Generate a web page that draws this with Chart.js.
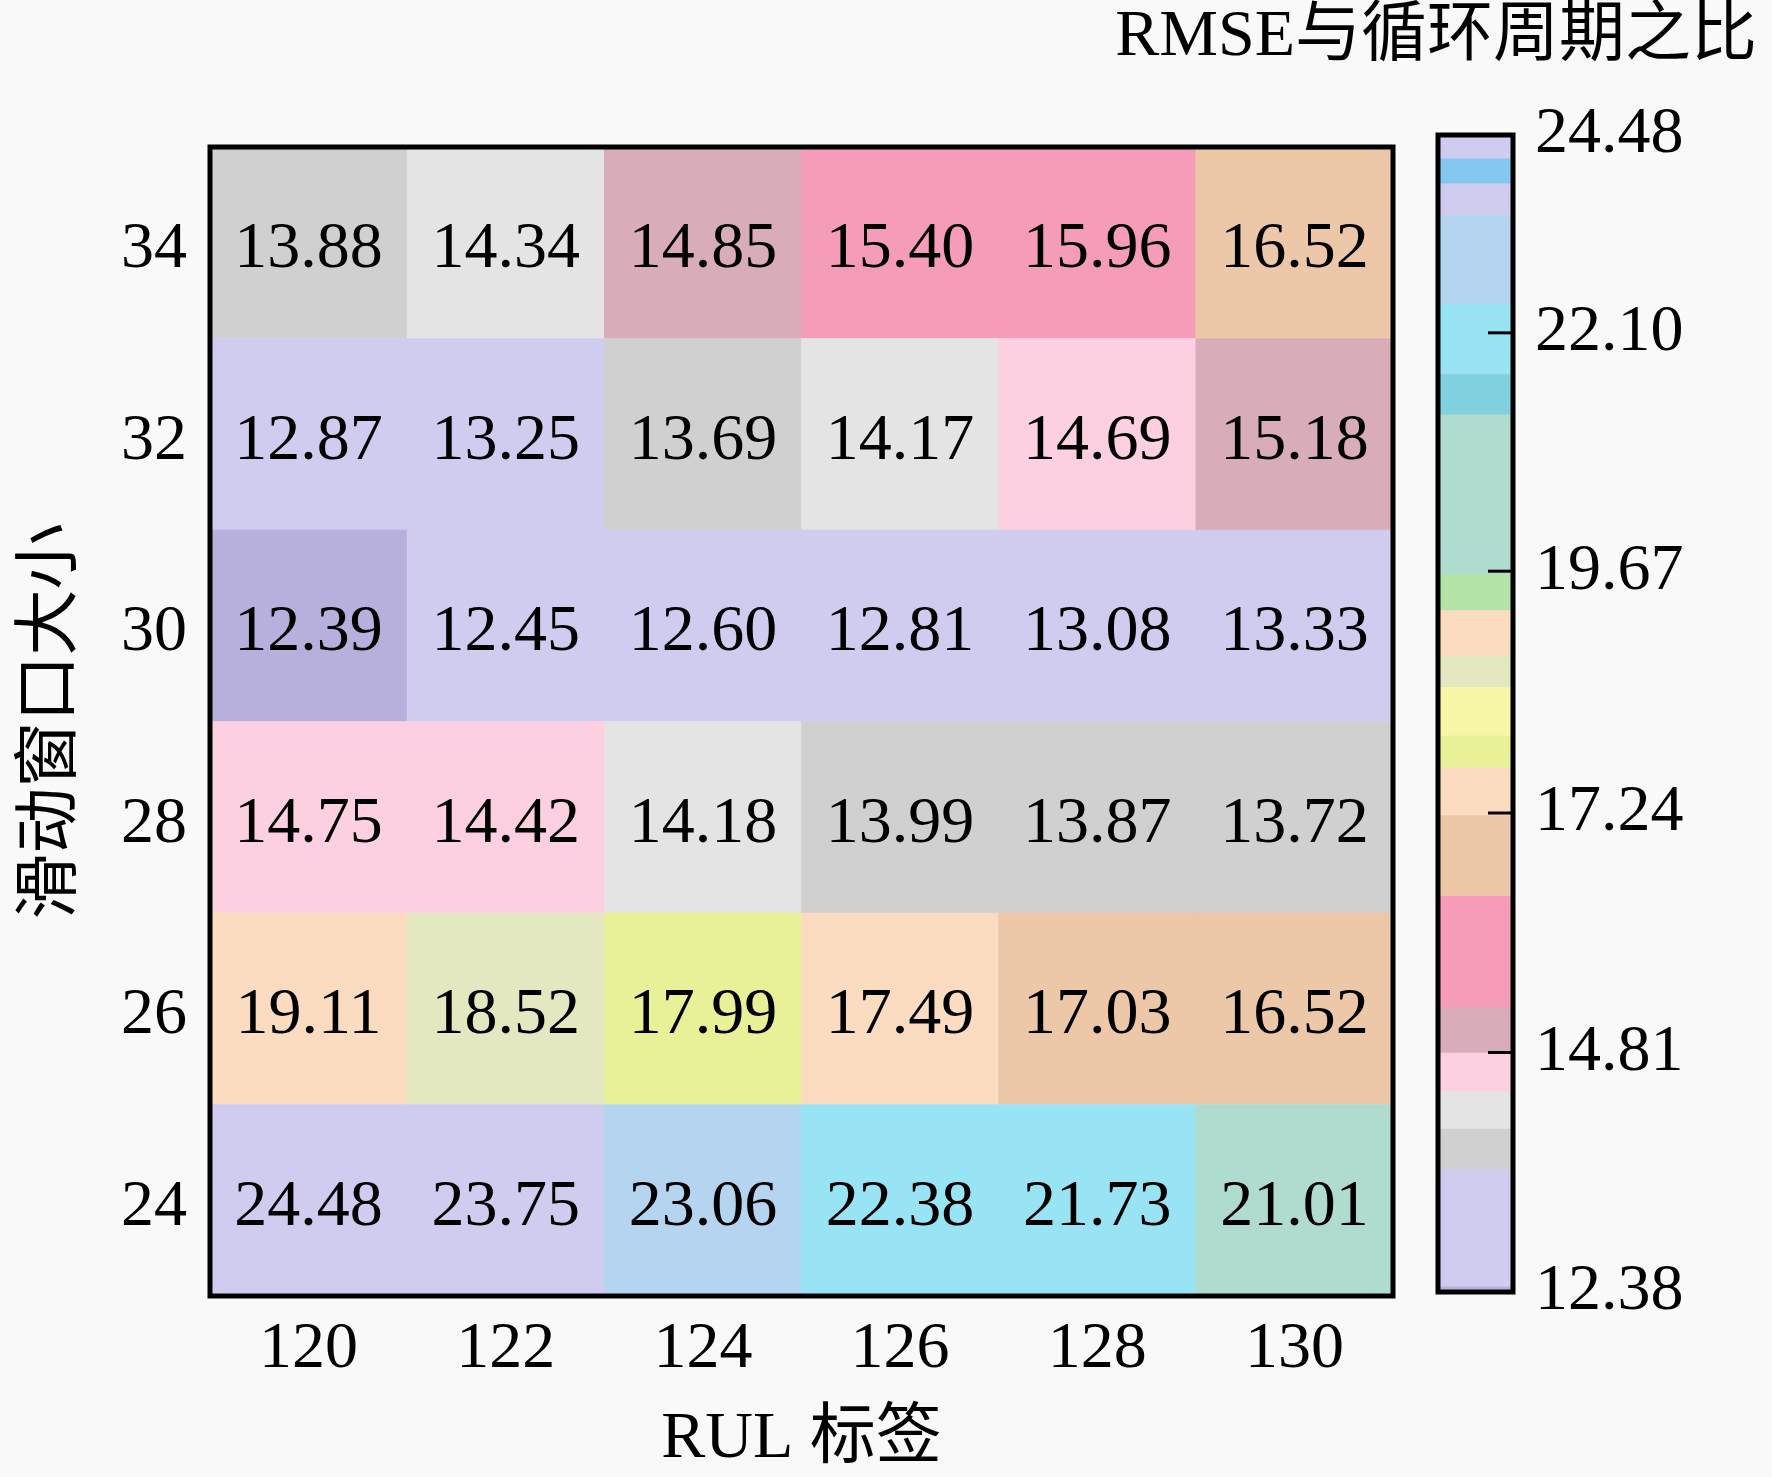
<!DOCTYPE html>
<html>
<head>
<meta charset="utf-8">
<script src="https://cdn.jsdelivr.net/npm/chart.js@4.4.1/dist/chart.umd.min.js"></script>
<style>
  html, body { margin: 0; padding: 0; background: #f9f9f9; }
  body { width: 1772px; height: 1477px; position: relative; overflow: hidden; }
  #heat-box { position: absolute; left: 0; top: 0; width: 1420px; height: 1477px; }
  #bar-box { position: absolute; left: 1100px; top: 0; width: 672px; height: 1477px; }
</style>
</head>
<body>
<div id="heat-box"><canvas id="heat-chart"></canvas></div>
<div id="bar-box"><canvas id="colorbar-chart"></canvas></div>
<script>
// Heatmap data: RMSE / cycle ratio per RUL label and sliding window size

let rulLabels = ['120', '122', '124', '126', '128', '130'];
let windowSizes = [24, 26, 28, 30, 32, 34];
// one row per window size, same order as windowSizes
let ratio24 = [24.48, 23.75, 23.06, 22.38, 21.73, 21.01];
let ratio26 = [19.11, 18.52, 17.99, 17.49, 17.03, 16.52];
let ratio28 = [14.75, 14.42, 14.18, 13.99, 13.87, 13.72];
let ratio30 = [12.39, 12.45, 12.60, 12.81, 13.08, 13.33];
let ratio32 = [12.87, 13.25, 13.69, 14.17, 14.69, 15.18];
let ratio34 = [13.88, 14.34, 14.85, 15.40, 15.96, 16.52];
let ratioRows = [ratio24, ratio26, ratio28, ratio30, ratio32, ratio34];

// Colour bar: level boundaries, colours and tick labels
let levelLow = [12.38, 12.44, 13.63, 14.04, 14.42, 14.81, 15.27, 16.40, 17.22, 17.70, 18.02,
                18.51, 18.82, 19.28, 19.64, 21.27, 21.68, 22.45, 23.52, 23.90, 24.20];
let levelColors = ['#b8b0dc', '#d0ccf0', '#d0d0d0', '#e4e4e4', '#fcd0e0', '#d8acb8', '#f49cb8',
                   '#ecc8a8', '#fcdcc0', '#e8f098', '#f6f6a6', '#e4e8c0', '#fcdcc0', '#b4e4a8',
                   '#b0dcd0', '#80d0e0', '#98e4f4', '#b4d4f0', '#d0ccf0', '#84c8f0', '#d0ccf0'];
let colorMax = 24.48;
let colorTicks = [12.38, 14.81, 17.24, 19.67, 22.10, 24.48];
// the bar is not linear: where each tick sits along it (0 = bottom, 1 = top)
let colorTickPos = [0, 0.207, 0.414, 0.623, 0.829, 1];

const fontFamily = "'Liberation Serif', 'Times New Roman', 'Noto Sans CJK SC', serif";
Chart.defaults.color = '#000';
Chart.defaults.font.family = fontFamily;
Chart.defaults.font.size = 66;

function colorFor(value) {
    let c = levelColors[0];
    for (let i = 0; i < levelLow.length; i++) {
        if (value >= levelLow[i]) c = levelColors[i];
    }
    return c;
}

// value -> position along the colour bar, piecewise between ticks
function barPos(value) {
    for (let i = 0; i < colorTicks.length - 1; i++) {
        if (value <= colorTicks[i + 1]) {
            const t = (value - colorTicks[i]) / (colorTicks[i + 1] - colorTicks[i]);
            return colorTickPos[i] + t * (colorTickPos[i + 1] - colorTickPos[i]);
        }
    }
    return 1;
}

// draws a black frame around the plot area
const frame = {
    id: 'frame',
    afterDraw(chart) {
        const a = chart.chartArea, ctx = chart.ctx;
        ctx.save();
        ctx.strokeStyle = '#000';
        ctx.lineWidth = 5;
        ctx.strokeRect(a.left, a.top, a.right - a.left, a.bottom - a.top);
        ctx.restore();
    }
};

// value text inside every heatmap cell
const cellText = {
    id: 'cellText',
    afterDatasetsDraw(chart) {
        const ctx = chart.ctx;
        ctx.save();
        ctx.font = '66px ' + fontFamily;
        ctx.fillStyle = '#000';
        ctx.textAlign = 'center';
        ctx.textBaseline = 'middle';
        chart.data.datasets.forEach(function (ds, di) {
            chart.getDatasetMeta(di).data.forEach(function (bar, i) {
                ctx.fillText(ratioRows[di][i].toFixed(2), bar.x, (bar.y + bar.base) / 2 + 7);
            });
        });
        ctx.restore();
    }
};

// ---------Heatmap-----------

const heatCtx = document.getElementById('heat-chart').getContext('2d');
const heatChart = new Chart(heatCtx, {
    type: 'bar',
    data: {
        labels: rulLabels,
        datasets: ratioRows.map(function (row, r) {
            return {
                label: String(windowSizes[r]),
                data: row.map(function () { return [windowSizes[r] - 1, windowSizes[r] + 1]; }),
                backgroundColor: row.map(colorFor),
                borderWidth: 0,
                barPercentage: 1,
                categoryPercentage: 1,
                grouped: false
            };
        })
    },
    options: {
        responsive: true,
        maintainAspectRatio: false,
        animation: false,
        layout: {
            padding: { left: 0, top: 147, right: 27, bottom: 0 }
        },
        scales: {
            x: {
                grid: { display: false, drawTicks: false },
                border: { display: false },
                ticks: { padding: 14 },
                title: {
                    display: true,
                    text: 'RUL 标签',
                    font: { lineHeight: 1 },
                    padding: { top: 0, bottom: 4 }
                },
                afterFit(scale) { scale.height = 181; }
            },
            y: {
                min: 23,
                max: 35,
                grid: { display: false, drawTicks: false },
                border: { display: false },
                ticks: { padding: 23, labelOffset: 7 },
                afterBuildTicks(scale) {
                    scale.ticks = windowSizes.map(function (v) { return { value: v }; });
                },
                title: {
                    display: true,
                    text: '滑动窗口大小',
                    padding: { top: 13, bottom: 0 }
                },
                afterFit(scale) { scale.width = 210; }
            }
        },
        plugins: {
            legend: { display: false },
            tooltip: { enabled: false }
        }
    },
    plugins: [cellText, frame]
});

// ---------Colour bar-----------

const colorbarExtras = {
    id: 'colorbarExtras',
    afterDraw(chart) {
        const ctx = chart.ctx, a = chart.chartArea, y = chart.scales.y;
        ctx.save();
        // inward tick marks on the right edge
        ctx.strokeStyle = '#000';
        ctx.lineWidth = 3;
        colorTickPos.slice(1, -1).forEach(function (p) {
            const py = y.getPixelForValue(p);
            ctx.beginPath();
            ctx.moveTo(a.right - 25, py);
            ctx.lineTo(a.right, py);
            ctx.stroke();
        });
        // title above the bar
        ctx.font = '66px ' + fontFamily;
        ctx.fillStyle = '#000';
        ctx.textAlign = 'right';
        ctx.textBaseline = 'middle';
        ctx.fillText('RMSE与循环周期之比', chart.width - 15, 38);
        ctx.restore();
    }
};

const colorbarCtx = document.getElementById('colorbar-chart').getContext('2d');
const colorbarChart = new Chart(colorbarCtx, {
    type: 'bar',
    data: {
        labels: ['bar'],
        datasets: [{
            data: levelLow.map(function (lo, i) {
                const hi = i + 1 < levelLow.length ? levelLow[i + 1] : colorMax;
                return { x: 'bar', y: [barPos(lo), barPos(hi)] };
            }),
            backgroundColor: levelColors,
            borderWidth: 0,
            barPercentage: 1,
            categoryPercentage: 1
        }]
    },
    options: {
        responsive: true,
        maintainAspectRatio: false,
        animation: false,
        layout: {
            padding: { left: 338, top: 135, right: 15, bottom: 185 }
        },
        scales: {
            x: { display: false },
            y: {
                position: 'right',
                min: 0,
                max: 1,
                grid: { display: false, drawTicks: false },
                border: { display: false },
                ticks: {
                    padding: 22,
                    callback: function (v, i) { return colorTicks[i].toFixed(2); }
                },
                afterBuildTicks(scale) {
                    scale.ticks = colorTickPos.map(function (p) { return { value: p }; });
                },
                afterFit(scale) { scale.width = 244; }
            }
        },
        plugins: {
            legend: { display: false },
            tooltip: { enabled: false }
        }
    },
    plugins: [frame, colorbarExtras]
});
</script>
</body>
</html>
